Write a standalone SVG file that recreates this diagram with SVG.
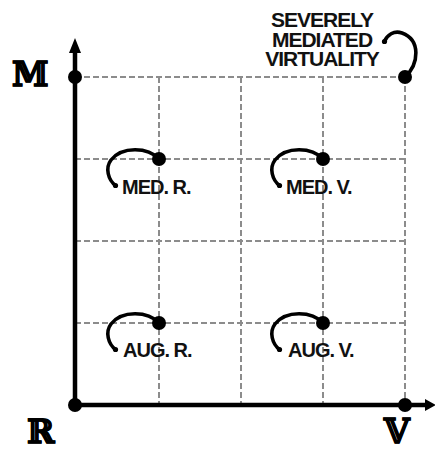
<svg xmlns="http://www.w3.org/2000/svg" width="435" height="452" viewBox="0 0 435 452">
<style>
.grid{stroke:#8c8c8c;stroke-width:2;stroke-dasharray:6 3;fill:none}
.axis{stroke:#000;stroke-width:4.5;fill:none}
.hook{stroke:#000;stroke-width:3.6;fill:none;stroke-linecap:round}
.lbl{font-family:"Liberation Sans",Arial,sans-serif;font-weight:bold;font-size:20px;letter-spacing:-1px;fill:#111}
.big{font-family:"Liberation Sans",Arial,sans-serif;font-weight:bold;font-size:21px;letter-spacing:-1px;fill:#111}
.ax{font-family:"DejaVu Serif","Liberation Serif",serif;font-weight:bold;font-size:33px;fill:#000;stroke:#000;stroke-width:0.6}
</style>
<rect width="435" height="452" fill="#fff"/>
<g id="connectors">
<path class="grid" d="M75,77H405M75,159H405M75,241H405M75,323H405M159,77V405M241,77V405M323,77V405M405,77V405"/>
<path class="axis" d="M75,405V50M75,405H427"/>
<polygon points="75,38 69,53 81,53" fill="#000"/>
<polygon points="436,405 425,399 425,411" fill="#000"/>
</g>
<g id="origin"><circle cx="75" cy="405" r="7"/><text class="ax" x="27" y="443">ℝ</text></g>
<g id="mediation"><circle cx="75" cy="77" r="7"/><text class="ax" x="12" y="86">𝕄</text></g>
<g id="virtuality"><circle cx="405" cy="405" r="7"/><text class="ax" x="384" y="443">𝕍</text></g>
<g id="smv"><circle cx="405" cy="77" r="7"/>
<path class="hook" d="M405,77 C419,64 421,40 402,33 C394,30 387,35 384,42"/>
<circle cx="384.5" cy="41.5" r="2.6"/>
<text class="big" text-anchor="middle"><tspan x="322" y="27">SEVERELY</tspan><tspan x="322" y="46.5">MEDIATED</tspan><tspan x="322" y="66">VIRTUALITY</tspan></text>
</g>
<g id="medr"><circle cx="159" cy="159" r="7"/>
<path class="hook" d="M159,159 C148,147 122,146 111,160 C105,168 108,180 116,186"/>
<circle cx="115.5" cy="185.5" r="2.6"/>
<text class="lbl" x="122" y="194">MED. R.</text></g>
<g id="medv"><circle cx="323" cy="159" r="7"/>
<path class="hook" d="M323,159 C312,147 286,146 275,160 C269,168 272,180 280,186"/>
<circle cx="279.5" cy="185.5" r="2.6"/>
<text class="lbl" x="286" y="194">MED. V.</text></g>
<g id="augr"><circle cx="159" cy="323" r="7"/>
<path class="hook" d="M159,323 C148,311 122,310 111,324 C105,332 108,344 116,350"/>
<circle cx="115.5" cy="349.5" r="2.6"/>
<text class="lbl" x="123" y="357">AUG. R.</text></g>
<g id="augv"><circle cx="323" cy="323" r="7"/>
<path class="hook" d="M323,323 C312,311 286,310 275,324 C269,332 272,344 280,350"/>
<circle cx="279.5" cy="349.5" r="2.6"/>
<text class="lbl" x="288" y="357">AUG. V.</text></g>
</svg>
